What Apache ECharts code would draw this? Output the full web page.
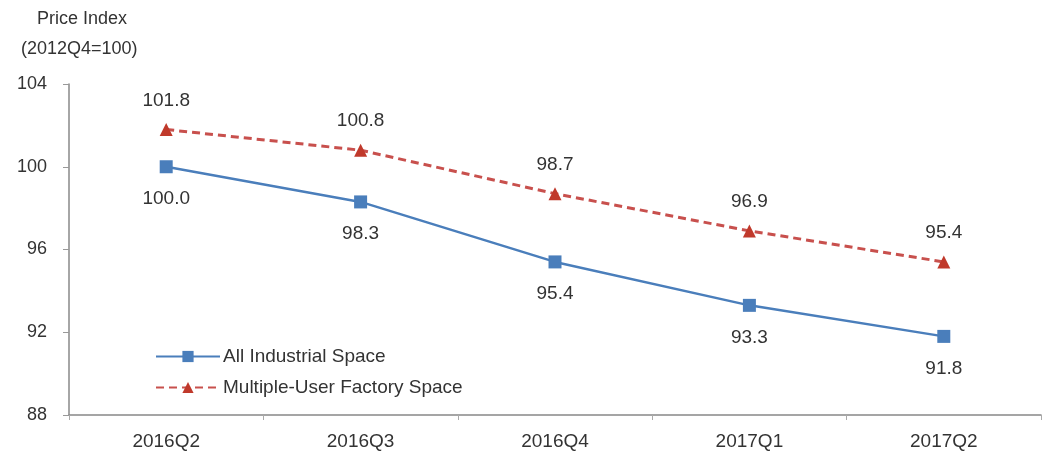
<!DOCTYPE html>
<html><head><meta charset="utf-8">
<script src="https://cdn.jsdelivr.net/npm/echarts@6/dist/echarts.min.js"></script>
<style>html,body{margin:0;padding:0;background:#fff}#c{width:1047px;height:457px}</style>
</head><body><div id="c"></div>
<script>
const categories = ['2016Q2','2016Q3','2016Q4','2017Q1','2017Q2'];
const allIndustrial = [100.0, 98.3, 95.4, 93.3, 91.8];
const multiUser = [101.8, 100.8, 98.7, 96.9, 95.4];
const yTicks = [88, 92, 96, 100, 104];

const chart = echarts.init(document.getElementById('c'));
const font = 'Liberation Sans, Arial, sans-serif';
chart.setOption({
  animation: false,
  textStyle: {fontFamily: font},
  graphic: [
    {type:'text', left: 37, top: 10, style:{text:'Price Index', fontSize:18, fill:'#333', fontFamily:font}},
    {type:'text', left: 21, top: 40, style:{text:'(2012Q4=100)', fontSize:18, fill:'#333', fontFamily:font}}
  ],
  grid: {left: 69, right: 6, top: 84, bottom: 42},
  legend: {
    orient: 'vertical', left: 150, top: 342, itemGap: 12, itemWidth: 64, itemHeight: 14,
    textStyle: {fontSize: 19, color: '#333', fontFamily: font, padding: [0,0,0,-2]},
    data: ['All Industrial Space', 'Multiple-User Factory Space']
  },
  xAxis: {
    type: 'category', data: categories, boundaryGap: true,
    axisLine: {lineStyle: {color: '#888', width: 1.5}},
    axisTick: {show: true, inside: false, length: 5, lineStyle: {color: '#aaa'}},
    axisLabel: {fontSize: 19, color: '#333', margin: 17, fontFamily: font}
  },
  yAxis: {
    type: 'value', min: 88, max: 104, interval: 4,
    axisLine: {show: true, lineStyle: {color: '#888', width: 1.5}},
    axisTick: {show: true, length: 6, lineStyle: {color: '#999'}},
    splitLine: {show: false},
    axisLabel: {fontSize: 18, color: '#333', margin: 22, fontFamily: font,
      formatter: v => yTicks.includes(v) ? String(v) : ''}
  },
  series: [
    {
      name: 'All Industrial Space', type: 'line', data: allIndustrial,
      symbol: 'rect', symbolSize: 13,
      itemStyle: {color: '#4a7ebb'},
      lineStyle: {color: '#4a7ebb', width: 2.5},
      label: {show: true, position: 'bottom', distance: 16, fontSize: 19, color: '#333',
        formatter: p => p.value.toFixed(1)}
    },
    {
      name: 'Multiple-User Factory Space', type: 'line', data: multiUser,
      symbol: 'triangle', symbolSize: 13,
      itemStyle: {color: '#c0392b'},
      lineStyle: {color: '#c8504d', width: 3, type: [8, 5]},
      label: {show: true, position: 'top', distance: 13, fontSize: 19, color: '#333',
        formatter: p => p.value.toFixed(1)}
    }
  ]
});
</script></body></html>
